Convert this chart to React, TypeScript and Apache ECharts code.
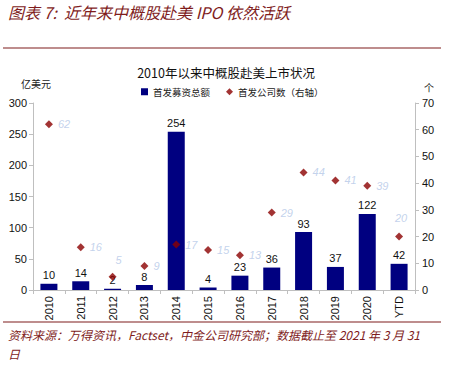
import React, { useEffect, useRef } from "react";
import * as echarts from "echarts";

const categories = ["2010", "2011", "2012", "2013", "2014", "2015", "2016", "2017", "2018", "2019", "2020", "YTD"];
const raisedAmount = [10, 14, 2, 8, 254, 4, 23, 36, 93, 37, 122, 42];
const companyCount = [62, 16, 5, 9, 17, 15, 13, 29, 44, 41, 39, 20];
const leftTicks = { min: 0, max: 300, interval: 50 };
const rightTicks = { min: 0, max: 70, interval: 10 };

const DARK_RED = "#7f1d1d";
const CJK = "'Noto Sans CJK SC', sans-serif";
const NUM = "'Liberation Sans', Arial, sans-serif";

export default function App() {
  const ref = useRef<HTMLDivElement>(null);
  useEffect(() => {
    if (!ref.current) return;
    const chart = echarts.init(ref.current, null, { renderer: "svg" });
    const scatterData = companyCount.map((v, i) => {
      const item: any = { value: v };
      if (categories[i] === "2012") {
        item.label = { position: "top", offset: [6, -2] };
      } else if (categories[i] === "YTD") {
        item.label = { position: "top", offset: [2, -4] };
      }
      return item;
    });
    chart.setOption({
      animation: false,
      backgroundColor: "#ffffff",
      grid: { left: 33, right: 45, top: 103, bottom: 83, containLabel: false },
      title: {
        text: "2010年以来中概股赴美上市状况",
        left: 221,
        textAlign: "center",
        top: 61,
        textStyle: { fontFamily: CJK, fontSize: 12.5, fontWeight: "normal", color: "#111" },
      },
      legend: {
        left: 136,
        top: 82,
        itemWidth: 7,
        itemHeight: 7,
        itemGap: 16,
        textStyle: { fontFamily: CJK, fontSize: 9.5, color: "#222" },
        data: [
          { name: "首发募资总额", icon: "rect" },
          { name: "首发公司数（右轴）", icon: "diamond" },
        ],
      },
      xAxis: {
        type: "category",
        data: categories,
        axisLine: { lineStyle: { color: "#bfbfbf" } },
        axisTick: { show: true, alignWithLabel: false, length: 4, lineStyle: { color: "#bfbfbf" } },
        axisLabel: { rotate: 90, fontFamily: NUM, fontSize: 11, color: "#111", margin: 6 },
      },
      yAxis: [
        {
          type: "value",
          min: leftTicks.min,
          max: leftTicks.max,
          interval: leftTicks.interval,
          splitLine: { show: false },
          axisLine: { show: true, lineStyle: { color: "#bfbfbf" } },
          axisTick: { show: true, length: 4, lineStyle: { color: "#bfbfbf" } },
          axisLabel: { fontFamily: NUM, fontSize: 11, color: "#111", margin: 6 },
        },
        {
          type: "value",
          min: rightTicks.min,
          max: rightTicks.max,
          interval: rightTicks.interval,
          position: "right",
          splitLine: { show: false },
          axisLine: { show: true, lineStyle: { color: "#bfbfbf" } },
          axisTick: { show: true, length: 4, lineStyle: { color: "#bfbfbf" } },
          axisLabel: { fontFamily: NUM, fontSize: 11, color: "#111", margin: 7 },
        },
      ],
      series: [
        {
          name: "首发募资总额",
          type: "bar",
          data: raisedAmount,
          barWidth: 17,
          itemStyle: { color: "#000080" },
          label: { show: true, position: "top", fontFamily: NUM, fontSize: 11, color: "#111", distance: 3 },
          z: 2,
        },
        {
          name: "首发公司数（右轴）",
          type: "scatter",
          yAxisIndex: 1,
          symbol: "diamond",
          symbolSize: 8,
          data: scatterData,
          itemStyle: { color: "#8b0000" },
          label: {
            show: true,
            position: "right",
            distance: 5,
            fontFamily: NUM,
            fontStyle: "italic",
            fontSize: 11,
            color: "#b4c7e7",
          },
          z: 3,
        },
      ],
      graphic: [
        {
          type: "text",
          left: 8,
          top: 4,
          style: {
            text: "图表 7:  近年来中概股赴美 IPO 依然活跃",
            font: `italic 16px ${CJK}`,
            fill: DARK_RED,
          },
        },
        {
          type: "line",
          shape: { x1: 3, y1: 48, x2: 441, y2: 48 },
          style: { stroke: DARK_RED, lineWidth: 1.2 },
        },
        {
          type: "text",
          left: 21,
          top: 78,
          style: { text: "亿美元", font: `10px ${CJK}`, fill: "#222" },
        },
        {
          type: "text",
          left: 424,
          top: 82,
          style: { text: "个", font: `10px ${CJK}`, fill: "#222" },
        },
        {
          type: "line",
          shape: { x1: 3, y1: 322, x2: 441, y2: 322 },
          style: { stroke: DARK_RED, lineWidth: 1.2 },
        },
        {
          type: "text",
          left: 8,
          top: 328,
          style: {
            text: "资料来源：万得资讯，Factset，中金公司研究部；数据截止至 2021 年 3 月 31",
            font: `italic 12px ${CJK}`,
            fill: DARK_RED,
          },
        },
        {
          type: "text",
          left: 8,
          top: 347,
          style: { text: "日", font: `italic 12px ${CJK}`, fill: DARK_RED },
        },
      ],
    });
    return () => chart.dispose();
  }, []);
  return <div ref={ref} style={{ position: "fixed", left: 0, top: 0, width: 460, height: 373 }} />;
}
